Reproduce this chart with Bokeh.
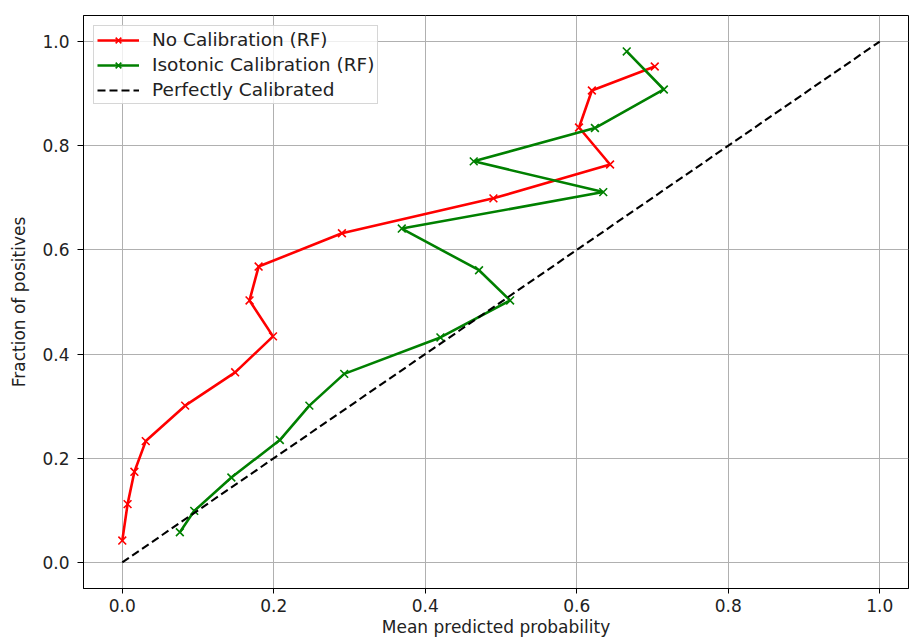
from bokeh.plotting import figure
from bokeh.models import FixedTicker, PrintfTickFormatter, Legend, LegendItem, Range1d
from bokeh.embed import file_html
from bokeh.resources import INLINE

# No Calibration (RF)
nocal_x = [0.000, 0.007, 0.016, 0.031, 0.083, 0.149, 0.199, 0.168, 0.180, 0.290, 0.490, 0.644, 0.603, 0.620, 0.703]
nocal_y = [0.042, 0.112, 0.174, 0.233, 0.301, 0.365, 0.434, 0.503, 0.568, 0.632, 0.699, 0.764, 0.835, 0.906, 0.952]

# Isotonic Calibration (RF)
iso_x = [0.076, 0.095, 0.144, 0.208, 0.247, 0.293, 0.420, 0.512, 0.471, 0.369, 0.635, 0.464, 0.624, 0.715, 0.666]
iso_y = [0.058, 0.099, 0.163, 0.235, 0.301, 0.362, 0.432, 0.503, 0.561, 0.641, 0.711, 0.770, 0.834, 0.908, 0.981]

# Perfectly calibrated
perfect_x = [0.0, 1.0]
perfect_y = [0.0, 1.0]

ticks = [0.0, 0.2, 0.4, 0.6, 0.8, 1.0]

FONT = "DejaVu Sans"
TXT = "#222222"

p = figure(width=909, height=639, output_backend="svg", toolbar_location=None,
           x_range=Range1d(-0.0512, 1.038), y_range=Range1d(-0.05, 1.05),
           min_border_left=83, min_border_right=1, min_border_top=15, min_border_bottom=51)

p.background_fill_color = "white"
p.border_fill_color = "white"
p.outline_line_color = "black"
p.outline_line_width = 1

for ax in (p.xaxis[0], p.yaxis[0]):
    ax.ticker = FixedTicker(ticks=ticks)
    ax.formatter = PrintfTickFormatter(format="%.1f")
    ax.major_label_text_font = FONT
    ax.major_label_text_font_size = "17px"
    ax.major_label_text_color = TXT
    ax.axis_label_text_font = FONT
    ax.axis_label_text_font_size = "17px"
    ax.axis_label_text_font_style = "normal"
    ax.axis_label_text_color = TXT
    ax.major_tick_out = 6
    ax.major_tick_in = 0
    ax.minor_tick_line_color = None
    ax.axis_line_color = "black"
    ax.major_tick_line_color = "black"

p.xaxis.axis_label = "Mean predicted probability"
p.yaxis.axis_label = "Fraction of positives"
p.xaxis.major_tick_out = 5
p.xaxis.major_label_standoff = 5
p.xaxis.axis_label_standoff = 2
p.yaxis.major_label_standoff = 8
p.yaxis.axis_label_standoff = 10

p.xgrid.ticker = FixedTicker(ticks=ticks)
p.ygrid.ticker = FixedTicker(ticks=ticks)
for g in (p.xgrid[0], p.ygrid[0]):
    g.grid_line_color = "#b0b0b0"
    g.grid_line_width = 1

r_line = p.line(nocal_x, nocal_y, line_color="#ff0000", line_width=2.6)
r_pts = p.scatter(nocal_x, nocal_y, marker="x", size=11, line_color="#ff0000", line_width=1.6)
g_line = p.line(iso_x, iso_y, line_color="#008000", line_width=2.6)
g_pts = p.scatter(iso_x, iso_y, marker="x", size=11, line_color="#008000", line_width=1.6)
d_line = p.line(perfect_x, perfect_y, line_color="black", line_width=2.1, line_dash="8 4")

legend = Legend(items=[
    LegendItem(label="No Calibration (RF)", renderers=[r_line, r_pts]),
    LegendItem(label="Isotonic Calibration (RF)", renderers=[g_line, g_pts]),
    LegendItem(label="Perfectly Calibrated", renderers=[d_line]),
], location="top_left")
legend.margin = 10
legend.padding = 3
legend.spacing = 4
legend.glyph_width = 42
legend.glyph_height = 20
legend.label_height = 20
legend.label_standoff = 13
legend.label_text_font = FONT
legend.label_text_font_size = "18.5px"
legend.label_text_color = TXT
legend.border_line_color = "#cccccc"
legend.border_line_alpha = 0.8
legend.background_fill_color = "white"
legend.background_fill_alpha = 0.8
p.add_layout(legend, "center")

open("out.html", "w").write(file_html(p, INLINE))
